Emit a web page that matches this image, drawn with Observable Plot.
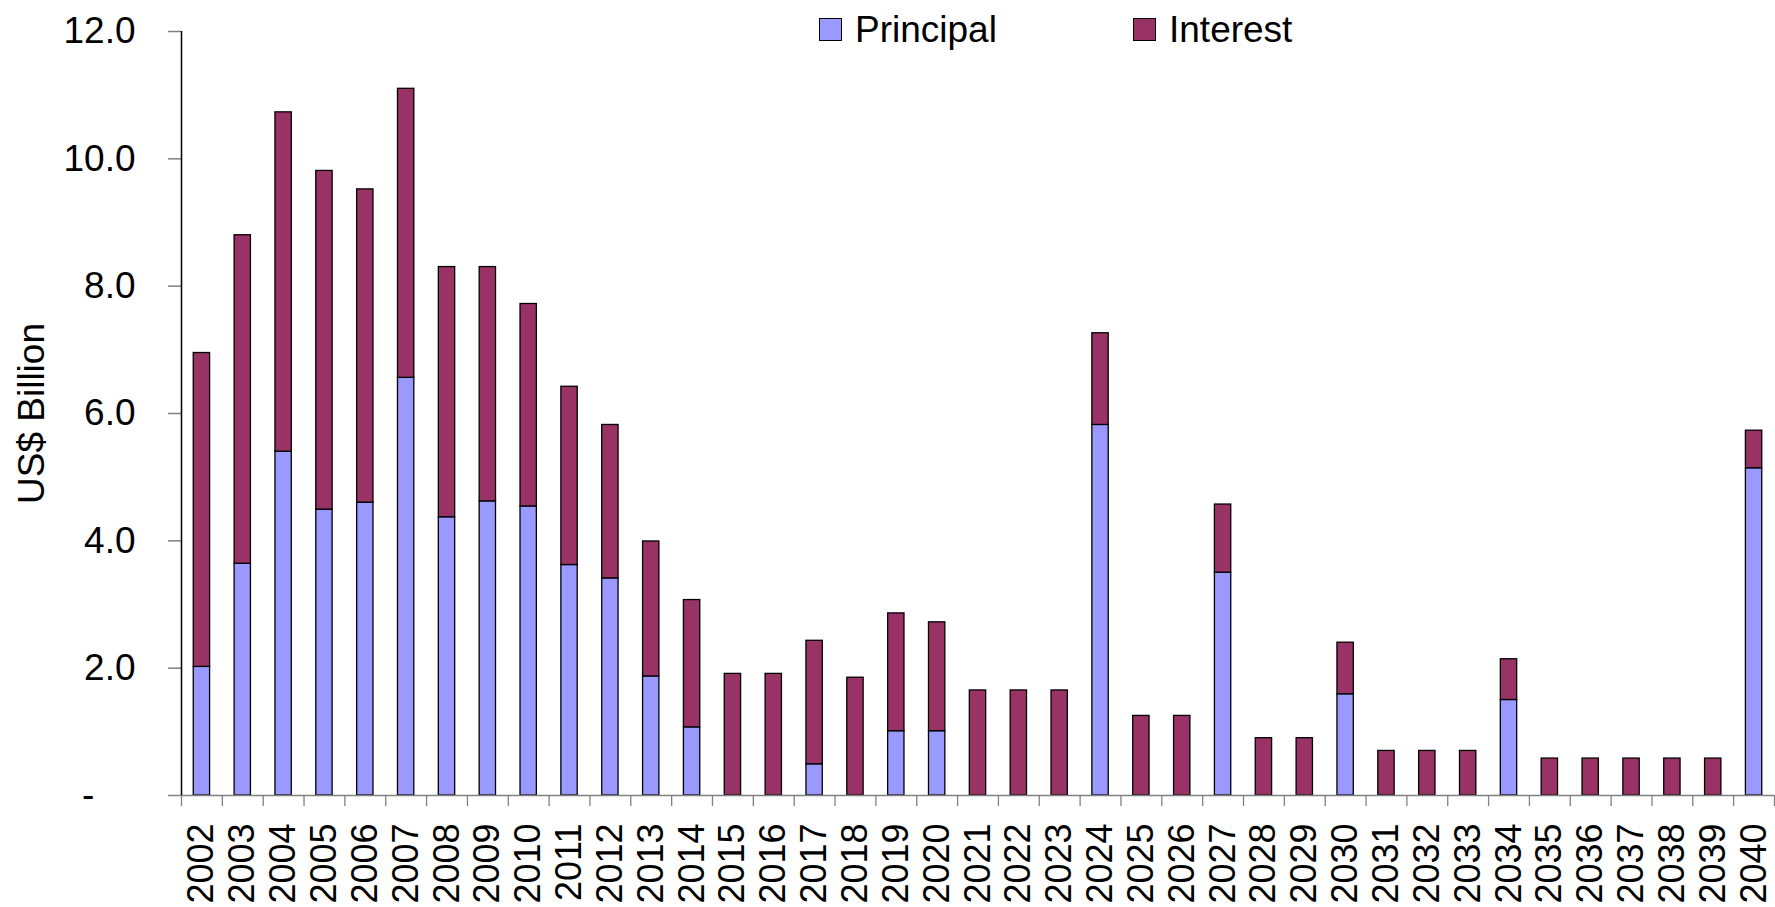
<!DOCTYPE html>
<html><head><meta charset="utf-8">
<script src="https://cdn.jsdelivr.net/npm/d3@7"></script>
<script src="https://cdn.jsdelivr.net/npm/@observablehq/plot@0.6"></script>
<style>
body{margin:0;background:#fff;font-family:"Liberation Sans",Arial,sans-serif;}
#wrap{position:relative;width:1775px;height:907px;}
#legend{position:absolute;top:11px;left:819px;display:flex;font-size:37px;line-height:37px;color:#000;}
.item{display:flex;align-items:center;}
.sw{width:21px;height:21px;border:1.5px solid #000;margin-right:13px;}
</style></head><body><div id="wrap"><div id="legend"></div></div>
<script>
const years = ["2002","2003","2004","2005","2006","2007","2008","2009","2010","2011","2012","2013","2014","2015","2016","2017","2018","2019","2020","2021","2022","2023","2024","2025","2026","2027","2028","2029","2030","2031","2032","2033","2034","2035","2036","2037","2038","2039","2040"];
const principal = [2.02,3.64,5.40,4.49,4.60,6.56,4.37,4.62,4.54,3.62,3.41,1.87,1.07,0,0,0.49,0,1.01,1.01,0,0,0,5.82,0,0,3.50,0,0,1.59,0,0,0,1.50,0,0,0,0,0,5.14];
const interest = [4.93,5.16,5.33,5.32,4.92,4.54,3.93,3.68,3.18,2.80,2.41,2.12,2.00,1.91,1.91,1.94,1.85,1.85,1.71,1.65,1.65,1.65,1.44,1.25,1.25,1.07,0.90,0.90,0.81,0.70,0.70,0.70,0.64,0.58,0.58,0.58,0.58,0.58,0.59];
const seriesNames = ["Principal","Interest"];
const seriesColors = ["#9999FF","#993366"];
const yTicks = [0,2,4,6,8,10,12];
const yLabel = "US$ Billion";

const data = [];
years.forEach((yr,i)=>{
  data.push({year:yr, series:seriesNames[0], value:principal[i]});
  data.push({year:yr, series:seriesNames[1], value:interest[i]});
});
const shown = data.filter(d=>d.value>0);

const W = 1775, H = 907, mL = 181, mR = 1;
const step = (W - mL - mR) / years.length;

const chart = Plot.plot({
  width: W, height: H,
  marginLeft: mL, marginRight: mR, marginTop: 31, marginBottom: 112,
  style: {fontFamily: "'Liberation Sans', Arial, sans-serif", color: "#000", background: "#fff"},
  x: {type: "band", domain: years, paddingInner: 0.6, paddingOuter: 0.3, axis: null},
  y: {domain: [0, 12], axis: null},
  color: {domain: seriesNames, range: seriesColors},
  marks: [
    Plot.barY(shown, {x: "year", y: "value", fill: "series", stroke: "#000", strokeWidth: 1.3}),
    Plot.axisX({tickSize: 0, tickRotate: -90, tickPadding: 28, fontSize: 36, label: null}),
    Plot.axisX({ticks: years, fill: "none", tickSize: 11, dx: -step/2, stroke: "#808080", strokeWidth: 1.3, label: null}),
    Plot.axisX({ticks: [years[years.length-1]], fill: "none", tickSize: 11, dx: step/2, stroke: "#808080", strokeWidth: 1.3, label: null}),
    Plot.axisY({ticks: yTicks, tickFormat: d => d === 0 ? "-" + "\u00a0".repeat(4) : d.toFixed(1),
      tickSize: 13, tickPadding: 33, fontSize: 37, stroke: "#808080", strokeWidth: 1.5,
      label: yLabel, labelAnchor: "center", labelArrow: "none", labelOffset: 164}),
    Plot.ruleY([0], {stroke: "#808080", strokeWidth: 1.5}),
    Plot.ruleX([years[0]], {dx: -step/2, y1: 0, y2: 12, stroke: "#000", strokeWidth: 1.5})
  ]
});
document.getElementById("wrap").appendChild(chart);

const legend = document.getElementById("legend");
seriesNames.forEach((name, i) => {
  const item = document.createElement("div");
  item.className = "item";
  if (i === 0) item.style.width = "314px";
  const sw = document.createElement("div");
  sw.className = "sw";
  sw.style.background = seriesColors[i];
  const t = document.createElement("span");
  t.textContent = name;
  item.appendChild(sw); item.appendChild(t);
  legend.appendChild(item);
});
</script></body></html>
